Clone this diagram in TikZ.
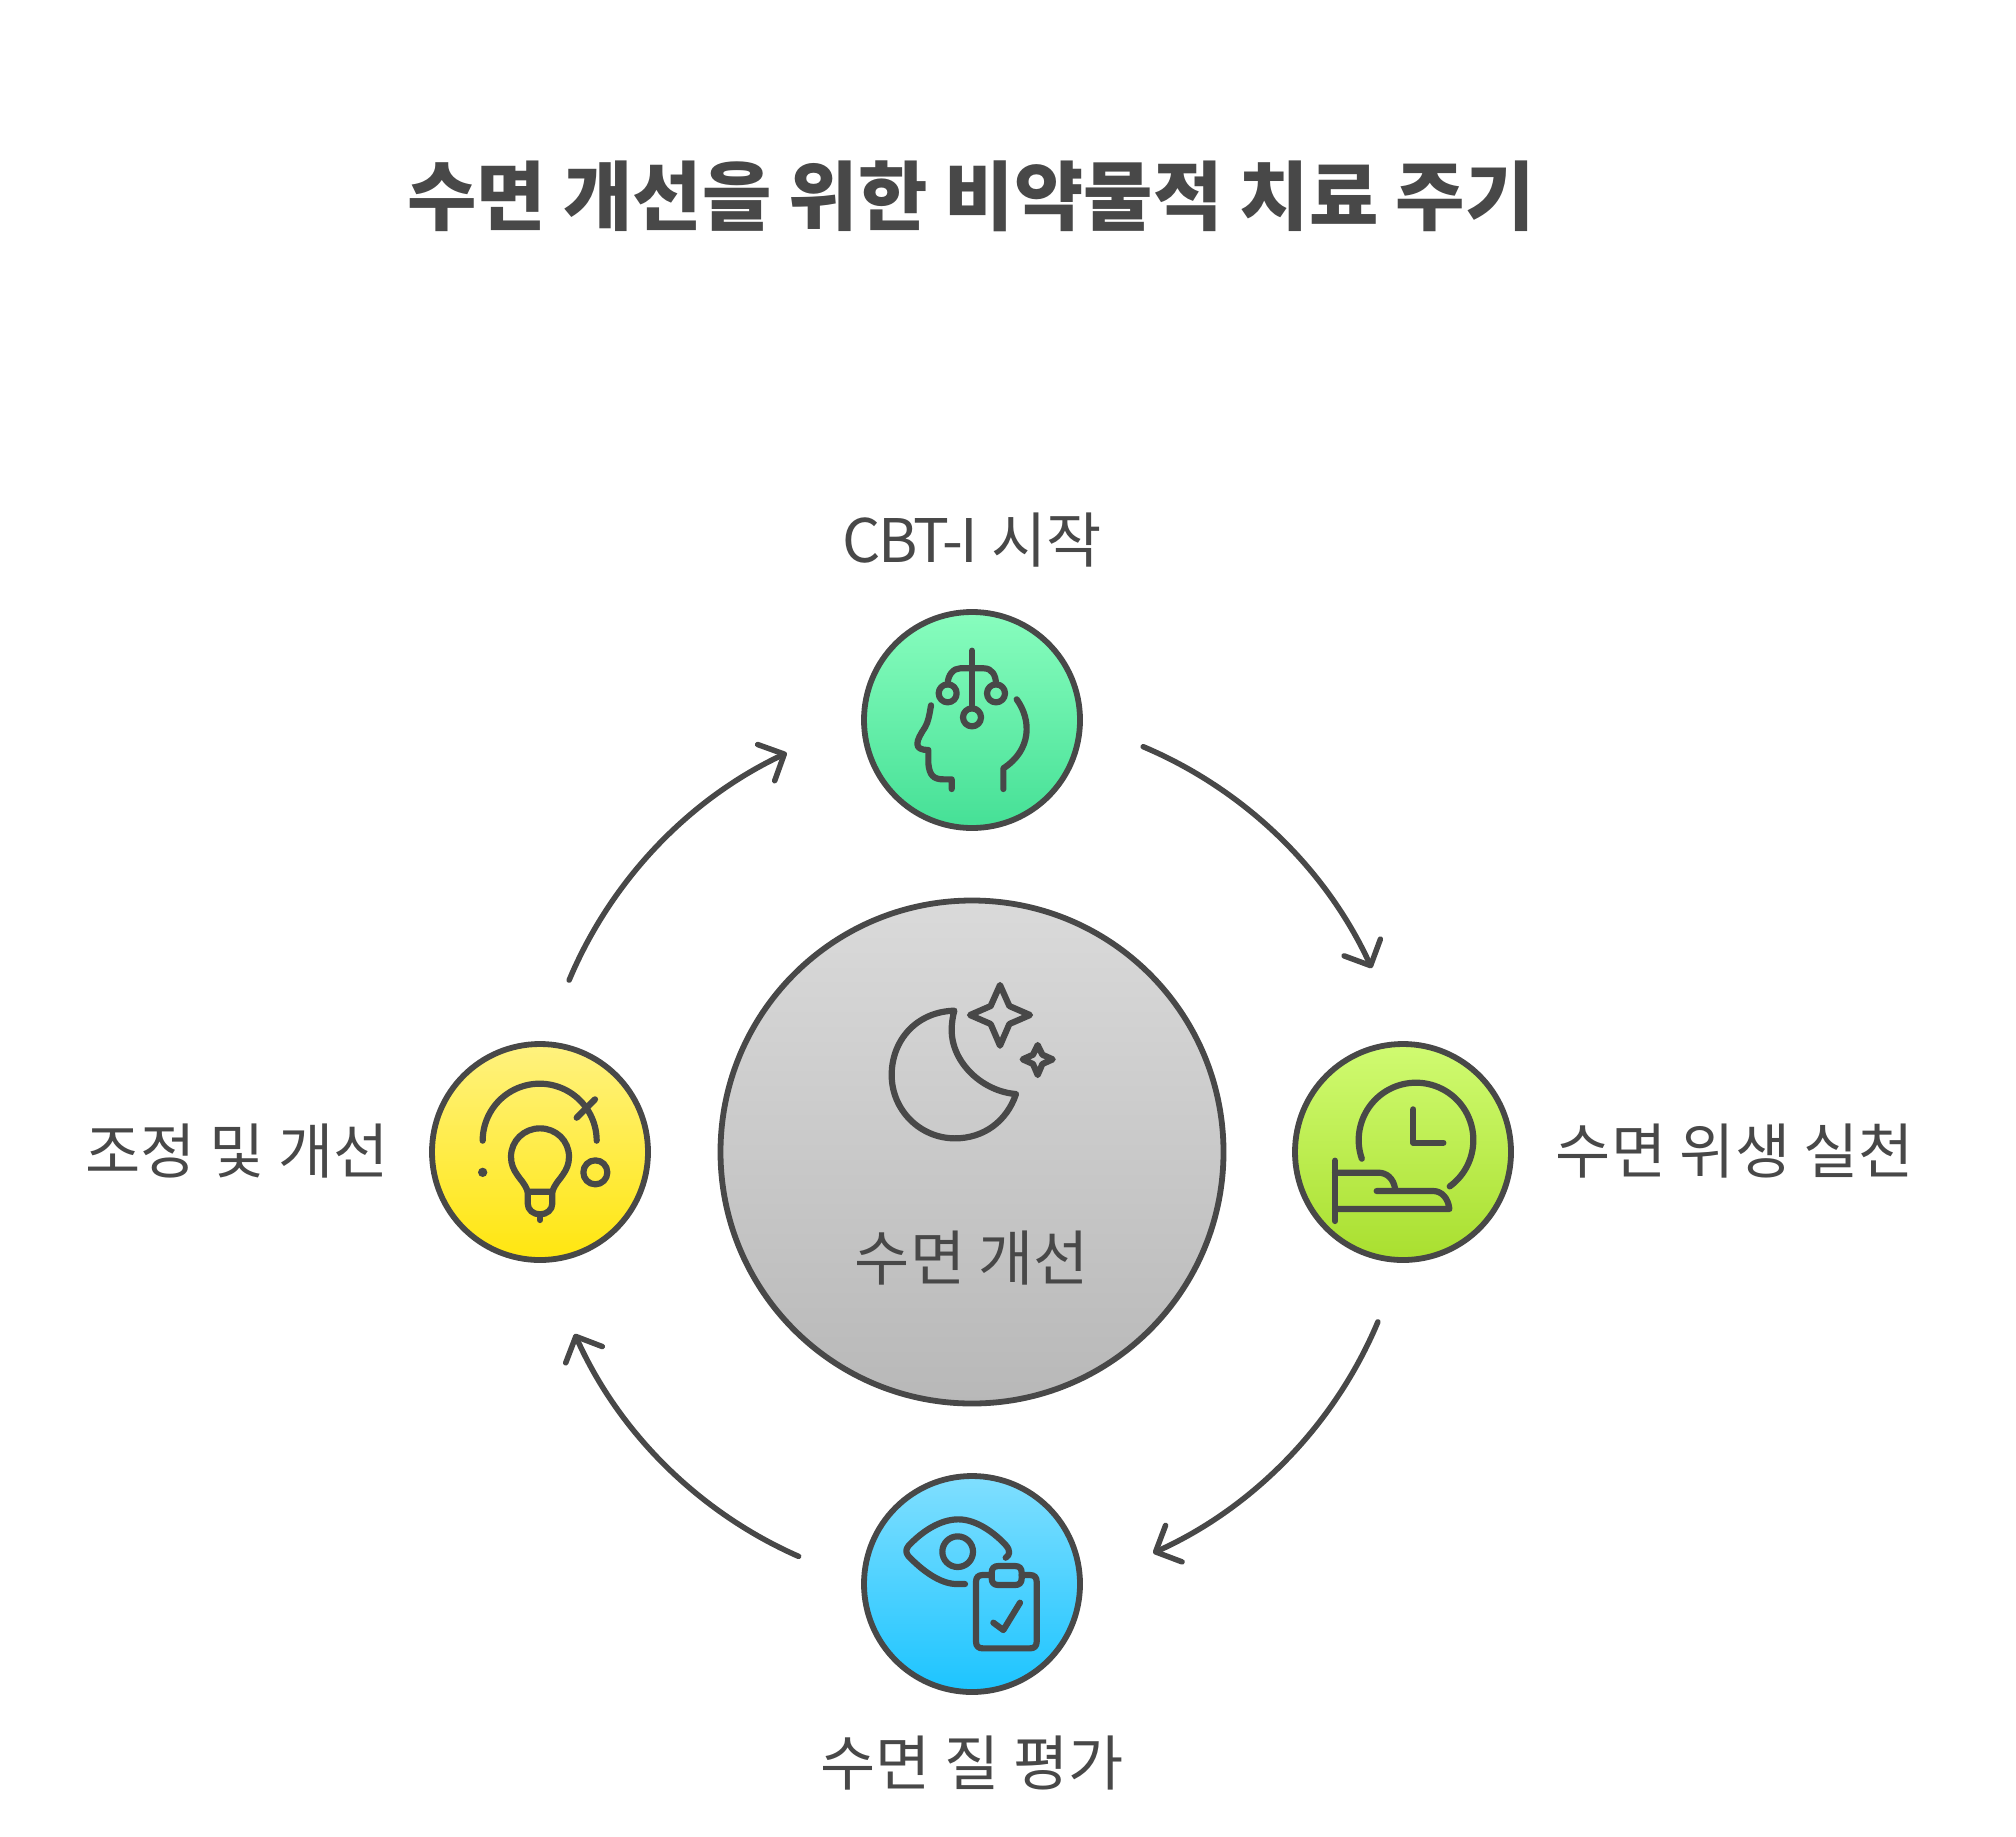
\documentclass[tikz,border=0pt]{standalone}
\usepackage{fontspec}
\usetikzlibrary{arrows.meta,calc}
\setmainfont{Noto Sans CJK KR}
\definecolor{ink}{HTML}{484848}
\tikzset{
  disc/.style={circle,draw=ink,line width=2.9pt,minimum size=216*0.5pt,inner sep=0pt},
  bigdisc/.style={circle,draw=ink,line width=2.9pt,minimum size=503*0.5pt,inner sep=0pt,top color=gA,bottom color=gB},
  lbl/.style={text=ink,font=\fontsize{30}{34}\selectfont,inner sep=0pt},
  ttl/.style={text=ink,font=\fontsize{37.7}{42}\selectfont\bfseries,inner sep=0pt},
  flow/.style={draw=ink,line width=2.75pt,line cap=round,line join=round,-{Straight Barb[length=10pt,width=20pt,line width=2.75pt,round]},looseness=0.88},
  ico/.style={draw=ink,line width=3.1pt,line cap=round,line join=round},
  zoomed/.style={x=0.16667pt,y=-0.16667pt}
}
\definecolor{gA}{HTML}{DADADA}\definecolor{gB}{HTML}{B8B8B8}
\begin{document}
\begin{tikzpicture}[x=0.5pt,y=-0.5pt]
\useasboundingbox[fill=white] (0,0) rectangle (2016,1836);
\node[ttl] (title) at (971,196) {수면 개선을 위한 비약물적 치료 주기};
% discs
\node[bigdisc] (core) at (972,1152) {};
\node[disc,top color={rgb,255:red,136;green,253;blue,190},bottom color={rgb,255:red,69;green,224;blue,150}] (top) at (972,720) {};
\node[disc,top color={rgb,255:red,208;green,251;blue,113},bottom color={rgb,255:red,169;green,223;blue,47}] (right) at (1403,1152) {};
\node[disc,top color={rgb,255:red,128;green,223;blue,255},bottom color={rgb,255:red,28;green,196;blue,255}] (bottom) at (972,1584) {};
\node[disc,top color={rgb,255:red,255;green,242;blue,127},bottom color={rgb,255:red,255;green,230;blue,15}] (left) at (540,1152) {};
% labels
\node[lbl] (ltop) at (972,540) {{\addfontfeatures{LetterSpace=-4}CBT-I} 시작};
\node[lbl] (lright) at (1735,1151) {수면 위생 실천};
\node[lbl] (lbottom) at (972,1763) {수면 질 평가};
\node[lbl] (lleft) at (237,1151) {조정 및 개선};
\node[lbl] (lcore) at (972,1258) {수면 개선};
% connector ends
\coordinate (a1) at ($(core)+(67.1:440 and -440)$);
\coordinate (a2) at ($(core)+(24.7:440 and -440)$);
\coordinate (b1) at ($(core)+(-22.7:440 and -440)$);
\coordinate (b2) at ($(core)+(-65.7:440 and -440)$);
\coordinate (c1) at ($(core)+(-113.2:440 and -440)$);
\coordinate (c2) at ($(core)+(-155.4:437 and -437)$);
\coordinate (d1) at ($(core)+(156.9:438 and -438)$);
\coordinate (d2) at ($(core)+(114.9:440 and -440)$);
\draw[flow] (a1) to[bend left=21.2] (a2);
\draw[flow] (b1) to[bend left=21.5] (b2);
\draw[flow] (c1) to[bend left=21.1] (c2);
\draw[flow] (d1) to[bend left=21.0] (d2);
% head icon
\begin{scope}[shift={(840,580)},zoomed]
\draw[ico] (396,212) -- (396,385);
\draw[ico] (396,412) circle[radius=27];
\draw[ico] (323,340) circle[radius=27];
\draw[ico] (468,340) circle[radius=27];
\draw[ico] (323,313) .. controls (323,285) and (340,265) .. (360,265) -- (432,265) .. controls (455,265) and (468,285) .. (468,313);
\draw[ico] (273,376) .. controls (268,405) and (265,425) .. (255,442) .. controls (242,462) and (232,478) .. (232,492) .. controls (232,505) and (245,510) .. (265,510) -- (265,550) .. controls (268,585) and (280,598) .. (310,598) -- (335,598) -- (335,627);
\draw[ico] (530,358) .. controls (575,420) and (575,510) .. (490,565) -- (490,627);
\end{scope}
% clock and bed icon
\begin{scope}[shift={(1280,1020)},zoomed]
\draw[ico] plot[domain=161:414,samples=70] ({408+172*cos(\x)},{360+172*sin(\x)});
\draw[ico] (400,268) -- (400,368) -- (490,368);
\draw[ico] (165,422) -- (165,603);
\draw[ico] (165,458) -- (295,458) .. controls (320,458) and (340,475) .. (345,505);
\draw[ico] (290,513) -- (460,513) .. controls (485,513) and (505,535) .. (508,567) -- (165,567);
\end{scope}
% eye and clipboard icon
\begin{scope}[shift={(840,1450)},zoomed]
\draw[ico] (375,402) -- (350,402) .. controls (300,402) and (245,360) .. (205,318) .. controls (197,308) and (197,298) .. (205,288) .. controls (245,245) and (300,208) .. (355,208) .. controls (410,208) and (465,250) .. (497,285) .. controls (512,302) and (510,315) .. (497,323);
\draw[ico] (353,305) circle[radius=46];
\draw[ico] (455,375) -- (428,375) .. controls (415,375) and (408,382) .. (408,395) -- (408,575) .. controls (408,588) and (415,595) .. (428,595) -- (570,595) .. controls (583,595) and (590,588) .. (590,575) -- (590,395) .. controls (590,382) and (583,375) .. (570,375) -- (545,375);
\draw[ico] (475,348) -- (525,348) .. controls (538,348) and (545,355) .. (545,368) -- (545,385) .. controls (545,398) and (538,405) .. (525,405) -- (475,405) .. controls (462,405) and (455,398) .. (455,385) -- (455,368) .. controls (455,355) and (462,348) .. (475,348) -- cycle;
\draw[ico] (460,518) -- (490,540) -- (540,458);
\end{scope}
% bulb icon
\begin{scope}[shift={(420,1020)},zoomed]
\draw[ico] plot[domain=180:360,samples=60] ({359+171*cos(\x)},{362+171*sin(\x)});
\draw[ico] (470,293) -- (525,238);
\fill[ink] (188,457) circle[radius=14];
\draw[ico] (526,457) circle[radius=36];
\draw[ico] (323,515) .. controls (315,490) and (300,478) .. (292,465) .. controls (280,448) and (273,432) .. (273,410) .. controls (273,362) and (312,325) .. (360,325) .. controls (408,325) and (447,362) .. (447,410) .. controls (447,432) and (440,448) .. (428,465) .. controls (420,478) and (405,490) .. (397,515) -- cycle;
\draw[ico] (323,515) -- (323,550) .. controls (323,570) and (340,583) .. (360,583) .. controls (380,583) and (397,570) .. (397,550) -- (397,515);
\draw[ico] (360,583) -- (360,600);
\end{scope}
% moon and stars icon
\begin{scope}[shift={(860,960)},zoomed]
\draw[ico] (283,152) .. controls (170,155) and (95,240) .. (95,345) .. controls (95,450) and (180,535) .. (285,535) .. controls (370,535) and (440,485) .. (468,402) .. controls (370,395) and (275,310) .. (275,210) .. controls (275,190) and (278,170) .. (283,152) -- cycle;
\draw[ico] (420,75) -- (448,138) -- (510,165) -- (448,192) -- (420,257) -- (392,192) -- (330,165) -- (392,138) -- cycle;
\draw[ico] (533,255) -- (547,284) -- (578,298) -- (547,312) -- (533,345) -- (519,312) -- (488,298) -- (519,284) -- cycle;
\end{scope}
\end{tikzpicture}
\end{document}
